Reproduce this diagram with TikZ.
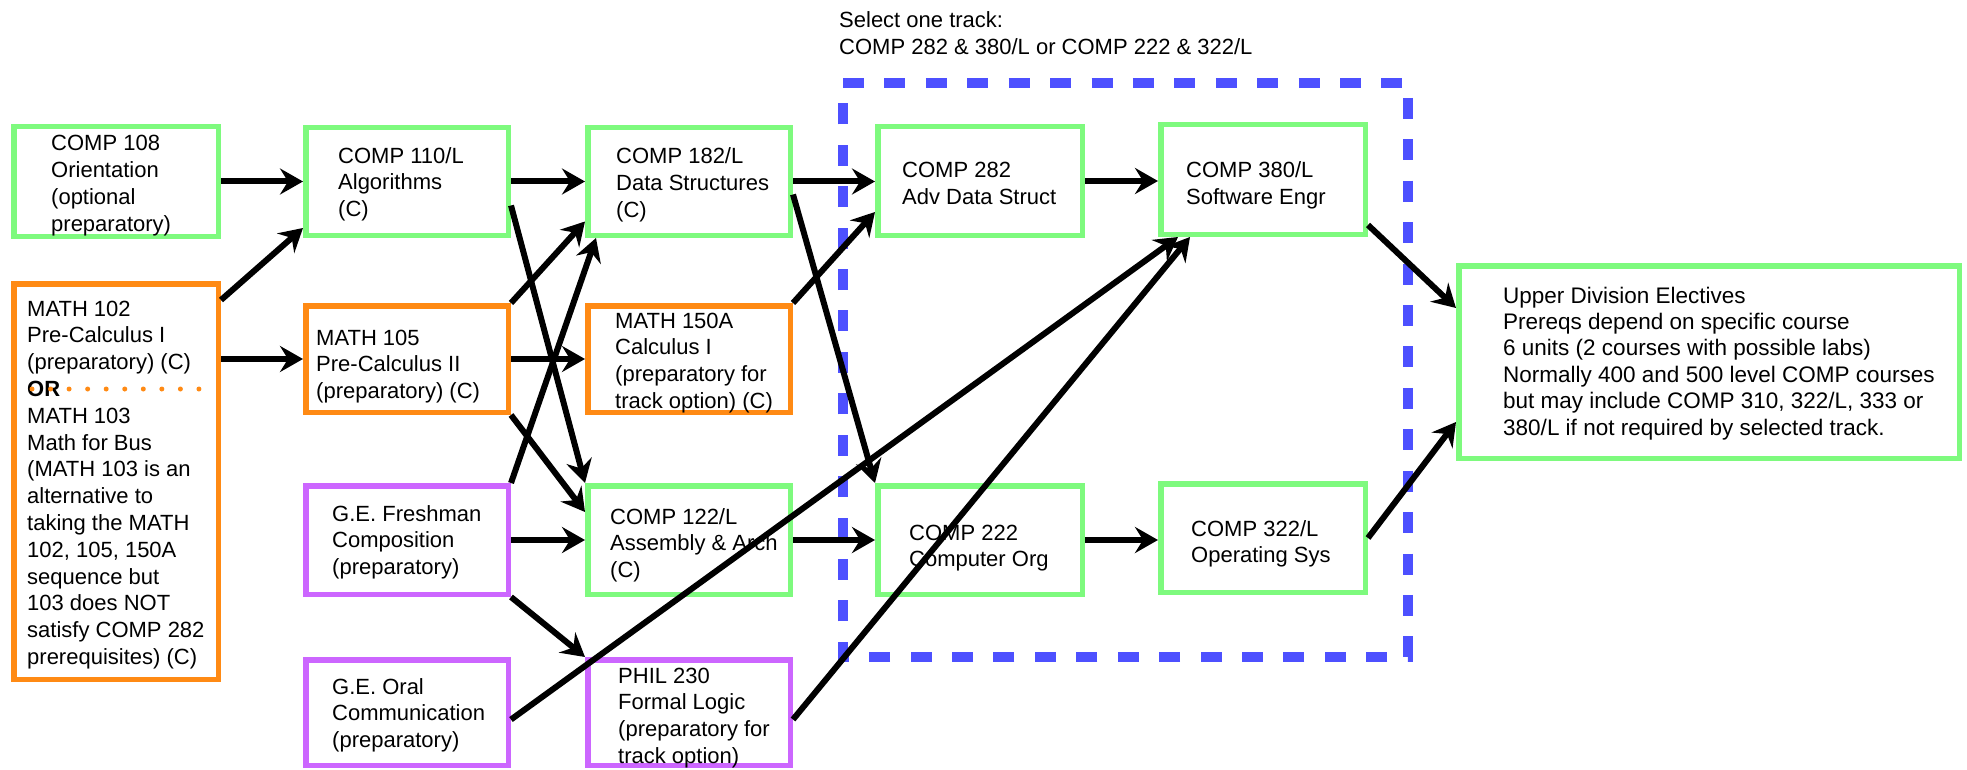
\documentclass[tikz,border=0pt]{standalone}
\usepackage{fontspec}
\setmainfont{Liberation Sans}
\usetikzlibrary{arrows.meta}
\definecolor{boxgreen}{RGB}{126,250,126}
\definecolor{boxorange}{RGB}{255,138,20}
\definecolor{boxpurple}{RGB}{204,102,255}
\definecolor{trackblue}{RGB}{77,80,255}
\begin{document}
\begin{tikzpicture}[x=1pt,y=-1pt,
  box/.style={draw, line width=5.5pt, inner sep=0pt},
  gbox/.style={box, draw=boxgreen},
  obox/.style={box, draw=boxorange},
  pbox/.style={box, draw=boxpurple},
  txt/.style={anchor=base west, align=left, inner sep=0pt, font=\fontsize{22}{26.8}\selectfont},
  arr/.style={line width=6pt, -{Stealth[length=23pt,width=26pt,inset=8pt]}},
  trackbox/.style={draw=trackblue, line width=10pt, dash pattern=on 21pt off 20.42pt},
  ordots/.style={draw=boxorange, line width=5pt, line cap=round, dash pattern=on 0pt off 18.55pt}
]
\useasboundingbox (0,0) rectangle (1967,770);

% track frame
\draw[trackbox] (843,83) -- (1408,83) -- (1408,657) -- (843,657) -- cycle;
% (text nodes are placed by the baseline of their last line)
\node[txt] (sel) at (839,54.8) {Select one track:\\COMP 282 \& 380/L or COMP 222 \& 322/L};

% boxes
\node[gbox, minimum width=204.5pt, minimum height=109.5pt] (c108) at (116,181.5) {};
\node[obox, minimum width=204.5pt, minimum height=395.5pt] (m102) at (116,481.5) {};
\node[gbox, minimum width=202.5pt, minimum height=107.5pt] (c110) at (407,181.5) {};
\node[obox, minimum width=202.5pt, minimum height=106.5pt] (m105) at (407,359) {};
\node[pbox, minimum width=202.5pt, minimum height=108.5pt] (gef) at (407,540) {};
\node[pbox, minimum width=202.5pt, minimum height=105.5pt] (geo) at (407,712.5) {};
\node[gbox, minimum width=202.5pt, minimum height=107.5pt] (c182) at (689,181.5) {};
\node[obox, minimum width=202.5pt, minimum height=106.5pt] (m150) at (689,359) {};
\node[gbox, minimum width=202.5pt, minimum height=108.5pt] (c122) at (689,540) {};
\node[pbox, minimum width=202.5pt, minimum height=105.5pt] (phil) at (689,712.5) {};
\node[gbox, minimum width=204.5pt, minimum height=108.5pt] (c282) at (980,181) {};
\node[gbox, minimum width=204.5pt, minimum height=109.5pt] (c380) at (1263,179.5) {};
\node[gbox, minimum width=204.5pt, minimum height=108.5pt] (c222) at (980,540) {};
\node[gbox, minimum width=204.5pt, minimum height=108.5pt] (c322) at (1263,538) {};
\node[gbox, minimum width=500.5pt, minimum height=192.5pt] (upper) at (1709,362) {};

% texts
\node[txt] (t108) at (51,231.4) {COMP 108\\Orientation\\(optional\\preparatory)};
\node[txt] (t102) at (27,664.4) {MATH 102\\Pre-Calculus I\\(preparatory) (C)\\\textbf{OR}\\MATH 103\\Math for Bus\\(MATH 103 is an\\alternative to\\taking the MATH\\102, 105, 150A\\sequence but\\103 does NOT\\satisfy COMP 282\\prerequisites) (C)};
\node[txt] (t110) at (338,216.6) {COMP 110/L\\Algorithms\\(C)};
\node[txt] (t105) at (316,398.6) {MATH 105\\Pre-Calculus II\\(preparatory) (C)};
\node[txt] (tgef) at (332,574.6) {G.E. Freshman\\Composition\\(preparatory)};
\node[txt] (tgeo) at (332,747.6) {G.E. Oral\\Communication\\(preparatory)};
\node[txt] (t182) at (616,217.6) {COMP 182/L\\Data Structures\\(C)};
\node[txt] (t150) at (615,408.4) {MATH 150A\\Calculus I\\(preparatory for\\track option) (C)};
\node[txt] (t122) at (610,577.6) {COMP 122/L\\Assembly \& Arch\\(C)};
\node[txt] (tphil) at (618,763.4) {PHIL 230\\Formal Logic\\(preparatory for\\track option)};
\node[txt] (t282) at (902,204.8) {COMP 282\\Adv Data Struct};
\node[txt] (t380) at (1186,204.8) {COMP 380/L\\Software Engr};
\node[txt] (t222) at (909,566.8) {COMP 222\\Computer Org};
\node[txt] (t322) at (1191,562.8) {COMP 322/L\\Operating Sys};
\node[txt, font=\fontsize{22.5}{26.4}\selectfont] (tup) at (1503,435) {Upper Division Electives\\Prereqs depend on specific course\\6 units (2 courses with possible labs)\\Normally 400 and 500 level COMP courses\\but may include COMP 310, 322/L, 333 or\\380/L if not required by selected track.};

% OR separator
\coordinate (orA) at (32,389);
\coordinate (orB) at (199,389);
\draw[ordots] (orA) -- (orB);

% connectors
\draw[arr] (c108.east) -- (c110.west);
\draw[arr] ([yshift=-19pt]m102.north east) -- ([yshift=10pt]c110.south west);
\draw[arr] (m102.east |- m105.west) -- (m105.west);
\draw[arr] (c110.east) -- (c182.west);
\draw[arr] ([yshift=-24pt]c110.east) -- (c122.north west);
\draw[arr] (m105.north east) -- ([yshift=-40pt]c182.west);
\draw[arr] (m105.east) -- (m150.west);
\draw[arr] (m105.south east) -- ([yshift=-29pt]c122.north west);
\draw[arr] (gef.north east) -- ([xshift=11pt]c182.south west);
\draw[arr] (gef.east) -- (c122.west);
\draw[arr] (gef.south east) -- (phil.north west);
\draw[arr] ([yshift=-7pt]geo.east) -- ([xshift=20pt]c380.south west);
\draw[arr] ([yshift=-7pt]phil.east) -- ([xshift=32pt]c380.south west);
\draw[arr] (c182.east) -- (c182.east -| c282.west);
\draw[arr] ([yshift=-13pt]c182.east) -- (c222.north west);
\draw[arr] (m150.north east) -- ([yshift=-31pt]c282.west);
\draw[arr] (c122.east) -- (c222.west);
\draw[arr] (c282.east) -- (c282.east -| c380.west);
\draw[arr] (c222.east) -- (c222.east -| c322.west);
\draw[arr] ([yshift=12pt]c380.south east) -- ([yshift=-45pt]upper.north west);
\draw[arr] (c322.east) -- ([yshift=39pt]upper.south west);
\end{tikzpicture}
\end{document}
